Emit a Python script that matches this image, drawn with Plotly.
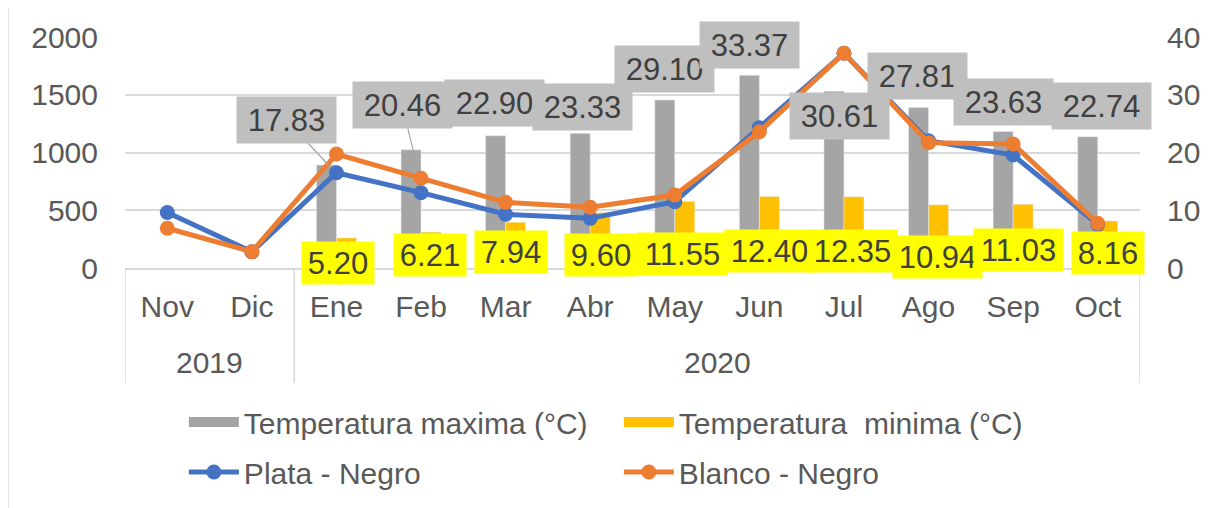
import plotly.graph_objects as go

years = ["2019", "2020"]
year_span = [["Nov", "Dic"], ["Ene", "Oct"]]
months = ["Nov", "Dic", "Ene", "Feb", "Mar", "Abr", "May", "Jun", "Jul", "Ago", "Sep", "Oct"]

temp_max = [None, None, 17.83, 20.46, 22.90, 23.33, 29.10, 33.37, 30.61, 27.81, 23.63, 22.74]
temp_min = [None, None, 5.20, 6.21, 7.94, 9.60, 11.55, 12.40, 12.35, 10.94, 11.03, 8.16]

plata_negro = [480, 140, 825, 652, 465, 430, 574, 1215, 1859, 1102, 978, 378]
blanco_negro = [344, 141, 987, 777, 569, 526, 632, 1180, 1859, 1085, 1074, 387]

FONT = "Liberation Sans, Arial, sans-serif"
GRID = "#D9D9D9"
GRAY = "#A5A5A5"
GOLD = "#FFC000"

fig = go.Figure()
fig.add_trace(go.Bar(x=months, y=temp_max, name="Temperatura maxima (°C)",
                     marker_color=GRAY, yaxis="y", showlegend=False))
fig.add_trace(go.Bar(x=months, y=temp_min, name="Temperatura  minima (°C)",
                     marker_color=GOLD, yaxis="y", showlegend=False))
# legend-only entries so the swatches are wide rectangles like in Excel
fig.add_trace(go.Scatter(x=[None], y=[None], mode="lines", name="Temperatura maxima (°C)",
                         line=dict(color=GRAY, width=22), legend="legend"))
fig.add_trace(go.Scatter(x=[None], y=[None], mode="lines", name="Temperatura  minima (°C)",
                         line=dict(color=GOLD, width=22), legend="legend"))
fig.add_trace(go.Scatter(x=months, y=plata_negro, name="Plata - Negro", mode="lines+markers",
                         line=dict(color="#4472C4", width=5), marker=dict(size=15),
                         yaxis="y2", legend="legend2"))
fig.add_trace(go.Scatter(x=months, y=blanco_negro, name="Blanco - Negro", mode="lines+markers",
                         line=dict(color="#ED7D31", width=5), marker=dict(size=15),
                         yaxis="y2", legend="legend2"))

# label offsets (px) for max-temperature labels: (xshift, yshift, leader line?)
max_off = [None, None, (-42, -45, True), (-11, -45, True), (-11, 33, False), (-8, 26, False),
           (-10, 31, False), (-10, 30, False), (-4, -25, False), (-11, 31, False),
           (-10, 30, False), (4, 31, False)]
min_off = [None, None, (2, 5), (9, 13), (5, 16), (11, 13), (8, 14), (10, 17), (9, 17),
           (9, 11), (5, 18), (10, 15)]

for i, m in enumerate(months):
    if temp_max[i] is None:
        continue
    dx, dy, leader = max_off[i]
    common = dict(x=m, y=temp_max[i], xref="x", yref="y",
                  text=f"{temp_max[i]:.2f}", font=dict(family=FONT, size=31, color="#404040"),
                  bgcolor="#BFBFBF", width=97, height=44)
    if leader:
        fig.add_annotation(**common, showarrow=True, ax=dx, ay=dy, xshift=-8,
                           arrowhead=0, arrowwidth=1.2, arrowcolor="#A6A6A6", standoff=0)
    else:
        fig.add_annotation(**common, showarrow=False, xshift=dx, yshift=dy)
    mdx, mdy = min_off[i]
    lbl = f"{temp_min[i]:.2f}"
    fig.add_annotation(x=m, y=0, xref="x", yref="y", text=lbl,
                       font=dict(family=FONT, size=31, color="#404040"), bgcolor="#FFFF00",
                       width=17 * len(lbl) + 2, height=40, showarrow=False,
                       xshift=mdx, yshift=mdy)

# second level of the category axis: year labels and dividers
bounds = []
for yr, (first, last) in zip(years, year_span):
    i0, i1 = months.index(first), months.index(last)
    fig.add_annotation(x=(i0 + i1) / 2, y=-0.407, xref="x", yref="paper", text=yr,
                       showarrow=False, yanchor="middle",
                       font=dict(family=FONT, size=30, color="#595959"))
    bounds += [i0 - 0.5, i1 + 0.5]
for b in sorted(set(bounds)):
    fig.add_shape(type="line", xref="x", yref="paper", x0=b, x1=b, y0=0, y1=-0.498,
                  line=dict(color=GRID, width=1.5))

fig.add_shape(type="rect", xref="paper", yref="paper", x0=-0.1153, x1=1.0778,
              y0=-1.2, y1=1.134, line=dict(color=GRID, width=1.5), layer="below")

# page body has an 8px margin, so the figure is 8px smaller than the window
fig.update_layout(
    width=1212, height=500,
    margin=dict(l=117, r=80, t=29, b=240, autoexpand=False),
    paper_bgcolor="white", plot_bgcolor="white",
    font=dict(family=FONT, size=30, color="#595959"),
    barmode="group", bargap=0.527, bargroupgap=0,
    xaxis=dict(type="category", range=[-0.5, 11.5], showline=True, linecolor=GRID,
               linewidth=1.5, ticks="", ticklabelstandoff=11,
               tickfont=dict(size=30, color="#595959")),
    yaxis=dict(side="right", range=[0, 40], dtick=10, showgrid=True, gridcolor=GRID,
               gridwidth=1.5, zeroline=False, ticklabelstandoff=26,
               tickfont=dict(size=30, color="#595959")),
    yaxis2=dict(side="left", overlaying="y", range=[0, 2000], dtick=500, showgrid=False,
                zeroline=False, ticklabelstandoff=26, tickfont=dict(size=30, color="#595959")),
    legend=dict(orientation="h", x=0.058, y=-0.667, xanchor="left", yanchor="middle",
                entrywidth=370, itemwidth=50, font=dict(size=30, color="#595959")),
    legend2=dict(orientation="h", x=0.058, y=-0.883, xanchor="left", yanchor="middle",
                 entrywidth=370, itemwidth=50, font=dict(size=30, color="#595959")),
)

fig.write_html("out.html")
